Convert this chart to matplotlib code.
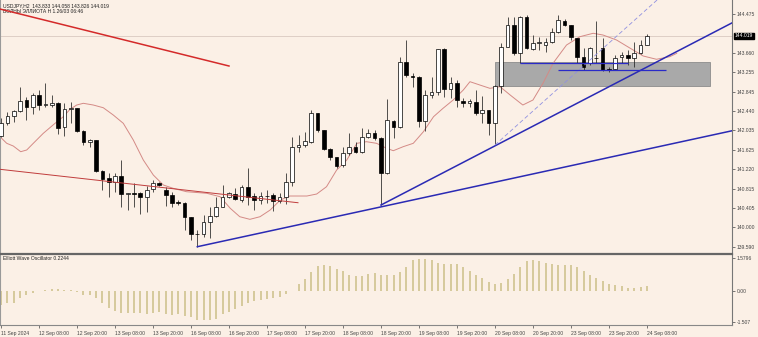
# USDJPY H2 chart with trend lines and Elliott Wave Oscillator (MT4 style)

import numpy as np
import matplotlib.pyplot as plt
import matplotlib.transforms as mtransforms
from matplotlib.patches import Rectangle

# candles, bar 0 = 11 Sep 20:00 ... bar 102 = 24 Sep 08:00
opens = [141.917, 142.183, 142.336, 142.441, 142.672, 142.531, 142.777, 142.570, 142.567, 142.615,
         142.100, 142.477, 142.498, 142.028, 141.791, 141.833, 141.183, 141.030, 140.946, 141.085,
         140.701, 140.716, 140.716, 140.632, 140.799, 140.925, 140.785, 140.680, 140.527, 140.518,
         140.212, 139.856, 139.856, 140.120, 140.239, 140.434, 140.632, 140.695, 140.575, 140.854,
         140.659, 140.575, 140.665, 140.680, 140.560, 140.644, 140.959, 141.680, 141.722, 141.791,
         142.393, 142.043, 141.638, 141.470, 141.309, 141.554, 141.693, 141.588, 141.902, 141.986,
         141.869, 141.135, 142.238, 142.100, 143.475, 143.182, 143.161, 142.238, 142.777, 142.834,
         143.735, 142.896, 143.022, 142.657, 142.603, 142.636, 142.393, 142.462, 142.183, 142.966,
         143.790, 144.245, 143.651, 144.406, 143.735, 143.861, 143.825, 143.895, 144.104, 144.335,
         144.245, 143.966, 143.580, 143.442, 143.559, 143.756, 143.328, 143.316, 143.567, 143.616,
         143.546, 143.651, 143.833]
highs = [142.288, 142.427, 142.462, 142.938, 142.741, 142.825, 142.882, 143.022, 142.777, 142.636,
         142.615, 142.636, 142.505, 142.035, 141.854, 141.840, 141.204, 141.135, 141.135, 141.414,
         140.722, 140.925, 140.749, 140.869, 140.994, 140.946, 140.854, 140.749, 140.575, 140.525,
         140.225, 139.946, 140.260, 140.434, 140.644, 140.890, 140.749, 140.820, 140.890, 141.240,
         140.716, 140.749, 140.785, 140.716, 140.716, 141.135, 141.902, 141.938, 142.007, 142.462,
         142.406, 142.050, 141.659, 141.483, 141.693, 141.974, 141.798, 142.079, 142.058, 142.043,
         141.902, 142.687, 142.253, 143.580, 143.930, 143.238, 143.168, 142.882, 143.161, 143.745,
         143.762, 143.161, 143.091, 142.714, 142.693, 142.882, 142.756, 142.470, 142.987, 143.861,
         144.419, 144.419, 144.434, 144.454, 144.035, 143.999, 143.966, 144.176, 144.454, 144.364,
         144.252, 143.973, 143.756, 143.790, 144.335, 143.966, 143.370, 143.616, 143.685, 143.721,
         143.882, 143.930, 144.058]
lows = [141.890, 142.148, 142.217, 142.427, 142.253, 142.378, 142.462, 142.531, 142.531, 141.959,
        141.917, 142.183, 142.007, 141.728, 141.693, 141.169, 140.785, 140.644, 140.749, 140.422,
        140.365, 140.434, 140.281, 140.330, 140.749, 140.869, 140.449, 140.434, 140.470, 139.946,
        139.736, 139.596, 139.805, 139.772, 140.225, 140.420, 140.611, 140.575, 140.539, 140.470,
        140.365, 140.491, 140.506, 140.351, 140.506, 140.491, 140.869, 141.588, 141.693, 141.764,
        142.007, 141.624, 141.414, 141.240, 141.273, 141.519, 141.554, 141.554, 141.869, 141.833,
        140.470, 141.120, 141.875, 142.085, 143.161, 142.951, 142.112, 142.028, 142.714, 142.777,
        142.741, 142.714, 142.531, 142.531, 142.531, 142.357, 142.190, 141.938, 141.728, 142.813,
        143.777, 143.616, 143.442, 143.735, 143.721, 143.721, 143.685, 143.861, 144.083, 144.224,
        143.930, 143.442, 143.301, 143.406, 143.442, 143.286, 143.265, 143.301, 143.442, 143.406,
        143.358, 143.637, 143.826]
closes = [142.183, 142.336, 142.441, 142.657, 142.519, 142.777, 142.567, 142.580, 142.609, 142.091,
          142.477, 142.511, 142.022, 141.798, 141.833, 141.183, 141.015, 140.946, 141.085, 140.701,
          140.716, 140.701, 140.632, 140.785, 140.925, 140.883, 140.680, 140.518, 140.512, 140.212,
          139.856, 139.862, 140.120, 140.239, 140.434, 140.632, 140.716, 140.602, 140.854, 140.644,
          140.575, 140.659, 140.653, 140.560, 140.644, 140.959, 141.680, 141.728, 141.812, 142.393,
          142.043, 141.638, 141.470, 141.288, 141.554, 141.693, 141.588, 141.902, 141.986, 141.869,
          141.135, 142.253, 142.100, 143.475, 143.196, 143.161, 142.238, 142.777, 142.834, 143.735,
          142.896, 143.035, 142.672, 142.615, 142.657, 142.393, 142.462, 142.183, 142.966, 143.790,
          144.245, 143.651, 144.406, 143.756, 143.861, 143.895, 143.895, 144.104, 144.350, 144.245,
          143.987, 143.580, 143.370, 143.756, 143.546, 143.301, 143.301, 143.559, 143.616, 143.546,
          143.651, 143.825, 144.019]

# time axis labels, one every 6 bars
tick_bars = [0, 6, 12, 18, 24, 30, 36, 42, 48, 54, 60, 66, 72, 78, 84, 90, 96, 102]
tick_labels = ["11 Sep 2024", "12 Sep 08:00", "12 Sep 20:00", "13 Sep 08:00", "13 Sep 20:00",
               "16 Sep 08:00", "16 Sep 20:00", "17 Sep 08:00", "17 Sep 20:00", "18 Sep 08:00",
               "18 Sep 20:00", "19 Sep 08:00", "19 Sep 20:00", "20 Sep 08:00", "20 Sep 20:00",
               "23 Sep 08:00", "23 Sep 20:00", "24 Sep 08:00"]

# price scale labels
price_ticks = [144.475, 143.660, 143.255, 142.845, 142.440, 142.035, 141.625, 141.220,
               140.815, 140.405, 140.000, 139.590]

# moving average line (shifted forward)
ma_bar = [-0.16, 0.9, 1.94, 3.11, 4.06, 5.1, 6.68, 8.53, 9.84, 10.9, 11.95, 13.0, 14.57, 16.15,
          17.73, 19.31, 20.89, 22.47, 24.05, 25.63, 27.2, 29.3, 32.5, 34.6, 36.2, 37.7, 39.3,
          40.9, 42.5, 44.1, 45.6, 48.3, 49.85, 51.4, 53.0, 54.6, 56.2, 57.7, 59.3, 60.9, 61.95,
          63.5, 65.1, 66.7, 68.3, 69.8, 71.4, 73.0, 74.05, 75.6, 77.2, 78.8, 80.4, 82.4, 84.0,
          85.6, 87.2, 89.3, 91.4, 93.5, 95.05, 97.2, 99.3, 101.4, 103.5, 105.6, 106.7]
ma_price = [141.902, 141.764, 141.707, 141.588, 141.624, 141.764, 141.974, 142.183, 142.322,
            142.477, 142.567, 142.603, 142.567, 142.510, 142.357, 142.183, 141.833, 141.414,
            141.099, 140.890, 140.820, 140.749, 140.716, 140.644, 140.401, 140.225, 140.170,
            140.225, 140.365, 140.575, 140.659, 140.659, 140.701, 140.854, 141.204, 141.414,
            141.764, 141.798, 141.764, 141.659, 141.609, 141.693, 141.764, 142.007, 142.322,
            142.498, 142.672, 142.882, 143.056, 142.987, 142.917, 142.951, 142.777, 142.567,
            142.672, 143.028, 143.448, 143.825, 143.999, 144.071, 144.035, 143.930, 143.762,
            143.595, 143.526, 143.580, 143.651]

# Elliott Wave Oscillator histogram
ewo = [-0.70, -0.62, -0.585, -0.37, -0.21, -0.10, -0.03, 0.05, 0.065, 0.065,
       0.03, 0.01, -0.05, -0.195, -0.23, -0.36, -0.62, -0.845, -1.01, -1.105,
       -1.07, -1.105, -1.105, -1.14, -1.105, -1.055, -1.14, -1.17, -1.14, -1.22,
       -1.30, -1.43, -1.43, -1.43, -1.38, -1.14, -1.055, -0.895, -0.73, -0.62,
       -0.49, -0.455, -0.405, -0.36, -0.29, -0.16, -0.03, 0.325, 0.57, 0.89,
       1.22, 1.27, 1.22, 1.055, 0.94, 0.78, 0.715, 0.715, 0.81, 0.845,
       0.78, 0.78, 0.78, 0.895, 1.17, 1.495, 1.56, 1.56, 1.495, 1.33,
       1.30, 1.30, 1.30, 1.17, 0.94, 0.78, 0.60, 0.44, 0.325, 0.39,
       0.57, 0.81, 1.14, 1.43, 1.51, 1.43, 1.33, 1.30, 1.27, 1.25,
       1.235, 1.14, 0.975, 0.76, 0.60, 0.455, 0.325, 0.26, 0.21, 0.145,
       0.145, 0.195, 0.21]

# drawn objects (bar, price)
red_line = ([-0.16, 36.0], [144.58, 143.385])
red_thin = ([-0.16, 46.9], [141.219, 140.518])
trend_low = ([31, 115.4], [lows[31], 142.026])
trend_steep = ([60, 115.4], [lows[60], 144.287])
trend_dash = ([78, 103.6], [lows[78], 144.769])
hline1 = (81.95, 99.0, 143.454)
hline2 = (88.0, 104.96, 143.301)
zone = (78.0, 111.95, 142.966, 143.463)

bg = '#fbf0e6'
plt.rcParams['font.family'] = ['Liberation Sans', 'DejaVu Sans']
fs = 3.6

fig = plt.figure(figsize=(7.58, 3.37), dpi=100, facecolor=bg)
ax = fig.add_axes([0.0, 1 - 252/337, 732/758, 252/337], facecolor=bg)
ax2 = fig.add_axes([0.0, 1 - 325/337, 732/758, 71/337], facecolor=bg, sharex=ax)

x = np.arange(len(opens))
o = np.array(opens)
c = np.array(closes)
up = c >= o
bot = np.minimum(o, c)
hgt = np.maximum(np.abs(c - o), 0.004)

# zone + lines under candles
ax.add_patch(Rectangle((zone[0], zone[2]), zone[1] - zone[0], zone[3] - zone[2],
                       facecolor='#a9a9a9', edgecolor='#8c8c8c', lw=0.6, zorder=1))
ax.axhline(closes[-1], color='#d9c9c0', lw=0.6, zorder=1)
ax.plot(ma_bar, ma_price, color='#d48a86', lw=0.7, zorder=2)

# candles
ax.vlines(x, lows, highs, color='#222222', lw=0.55, zorder=3)
ax.bar(x[up], hgt[up], bottom=bot[up], width=0.58, color='white', edgecolor='black', lw=0.5, zorder=4)
ax.bar(x[~up], hgt[~up], bottom=bot[~up], width=0.58, color='black', edgecolor='black', lw=0.5, zorder=4)

# trend lines
ax.plot(*red_line, color='#d42a2a', lw=1.1, zorder=5)
ax.plot(*red_thin, color='#c03c3c', lw=0.7, zorder=5)
ax.plot(*trend_low, color='#2a2ab4', lw=1.1, zorder=5)
ax.plot(*trend_steep, color='#2a2ab4', lw=1.1, zorder=5)
ax.plot(*trend_dash, color='#9090e0', lw=0.6, ls=(0, (5, 3)), zorder=5)
ax.hlines([hline1[2], hline2[2]], [hline1[0], hline2[0]], [hline1[1], hline2[1]],
          color='#2a2ac8', lw=0.9, zorder=5)

ax.set_xlim(-0.16, 115.43)
ax.set_ylim(139.485, 144.769)
ax.yaxis.tick_right()
ax.set_yticks(price_ticks)
ax.set_yticklabels(["%.3f" % p for p in price_ticks])
ax.tick_params(axis='y', direction='out', length=2, width=0.5, pad=1.5, labelsize=fs, colors='#444')
ax.tick_params(axis='x', bottom=False, labelbottom=False)
for s in ['top', 'bottom']:
    ax.spines[s].set_visible(False)
ax.spines['left'].set_color('#999999')
ax.spines['right'].set_color('#777777')
ax.spines['left'].set_linewidth(0.8)
ax.spines['right'].set_linewidth(0.8)

# current price box
trans = mtransforms.blended_transform_factory(ax.transAxes, ax.transData)
ax.text(1.004, closes[-1], "%.3f" % closes[-1], transform=trans, fontsize=fs, color='white',
        va='center', ha='left', bbox=dict(boxstyle='square,pad=0.15', fc='black', ec='black'),
        zorder=10, clip_on=False)

# header
ax.text(0.004, 0.978, "USDJPY,H2  143.833 144.058 143.826 144.019", transform=ax.transAxes,
        fontsize=fs, va='center', color='#222')
ax.text(0.004, 0.956, "ВОЛНЫ ЭЛЛИОТА H 1.26/03 06:46", transform=ax.transAxes,
        fontsize=fs, va='center', color='#222')

# oscillator
ax2.vlines(x, 0, ewo, color='#cbbf88', lw=1.1)
ax2.set_ylim(-1.672, 1.789)
ax2.yaxis.tick_right()
ax2.set_yticks([1.5796, 0.0, -1.507])
ax2.set_yticklabels(["1.5796", "0.00", "-1.507"])
ax2.tick_params(axis='y', direction='out', length=2, width=0.5, pad=1.5, labelsize=fs, colors='#444')
ax2.set_xticks(tick_bars)
ax2.set_xticklabels(tick_labels)
ax2.tick_params(axis='x', direction='out', length=2.5, width=0.5, pad=1.5, labelsize=fs, colors='#444')
for lbl in ax2.get_xticklabels():
    lbl.set_ha('left')
ax2.spines['top'].set_color('#666666')
ax2.spines['top'].set_linewidth(1.6)
ax2.spines['bottom'].set_color('#888888')
ax2.spines['bottom'].set_linewidth(0.8)
ax2.spines['left'].set_color('#999999')
ax2.spines['left'].set_linewidth(0.8)
ax2.spines['right'].set_color('#777777')
ax2.spines['right'].set_linewidth(0.8)
ax2.text(0.004, 0.93, "Elliott Wave Oscillator 0.2244", transform=ax2.transAxes,
         fontsize=fs, va='center', color='#222')

fig.savefig('out.png', dpi=100, facecolor=bg)
